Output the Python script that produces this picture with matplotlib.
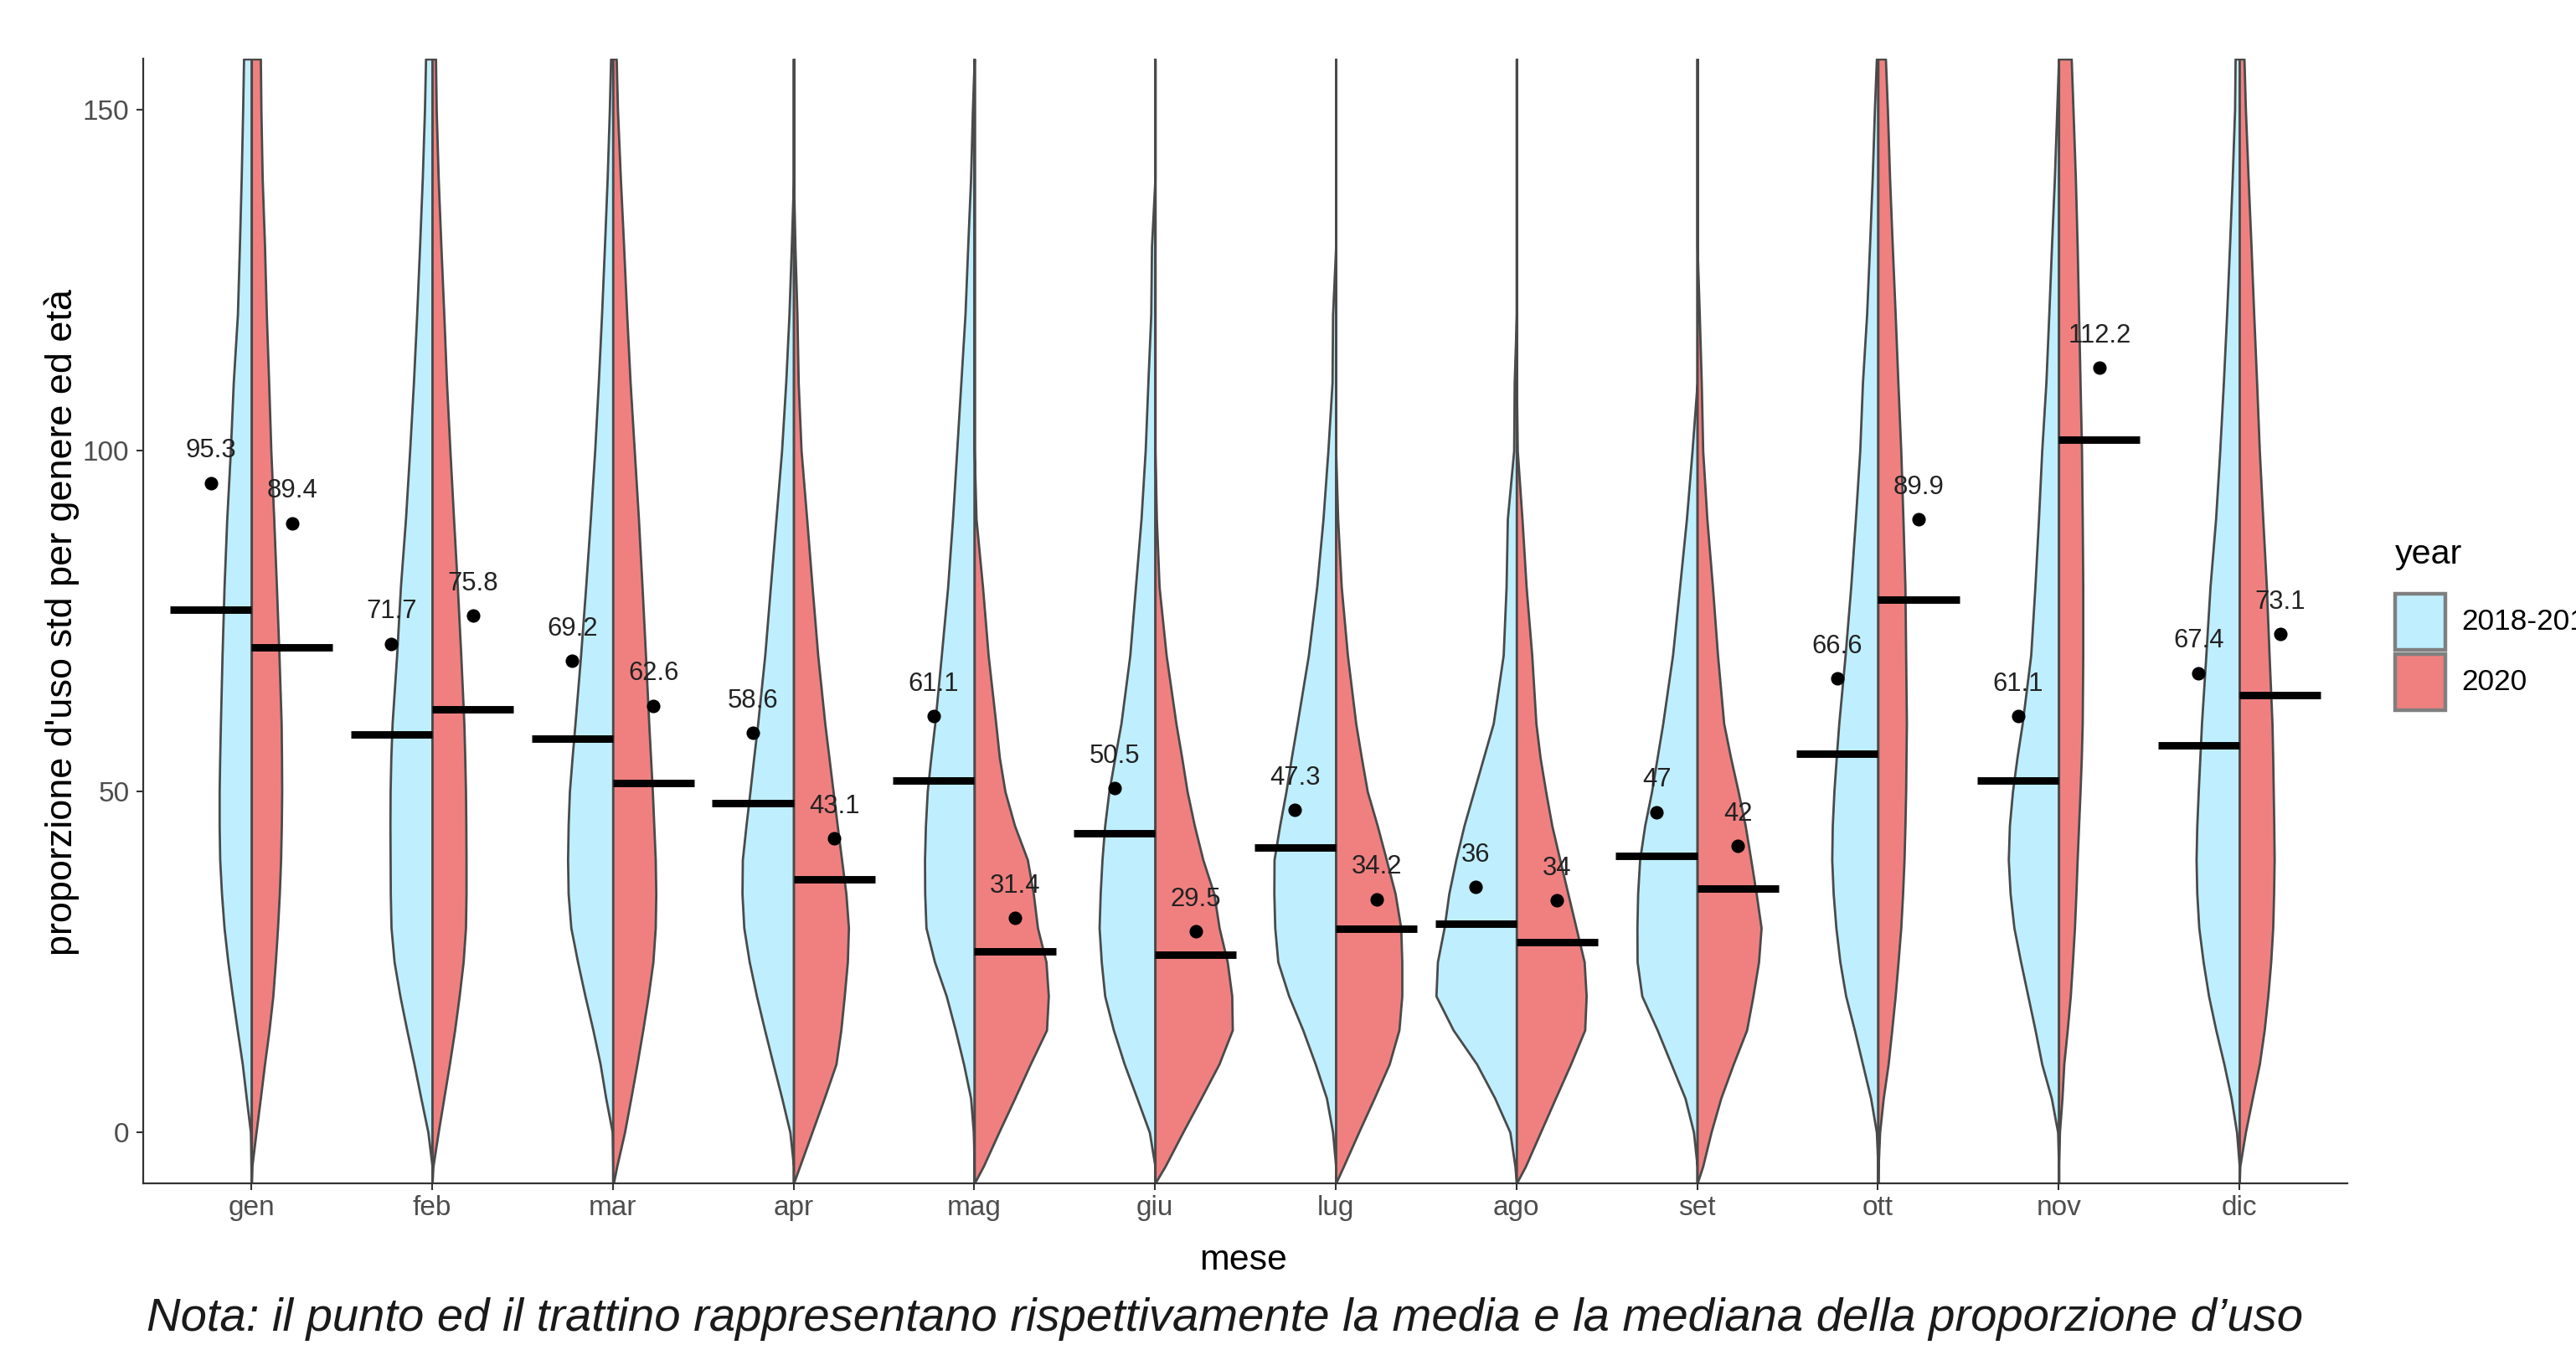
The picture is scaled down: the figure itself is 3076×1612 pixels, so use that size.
import numpy as np
import matplotlib
matplotlib.use("Agg")
import matplotlib.pyplot as plt
import matplotlib.font_manager as fm
from matplotlib.patches import Rectangle

# ---------------- data ----------------
months = ["gen", "feb", "mar", "apr", "mag", "giu", "lug", "ago", "set", "ott", "nov", "dic"]
groups = ["2018-2019", "2020"]

mean_1819 = [95.3, 71.7, 69.2, 58.6, 61.1, 50.5, 47.3, 36, 47, 66.6, 61.1, 67.4]
mean_2020 = [89.4, 75.8, 62.6, 43.1, 31.4, 29.5, 34.2, 34, 42, 89.9, 112.2, 73.1]

median_1819 = [76.7, 58.4, 57.7, 48.3, 51.6, 43.9, 41.8, 30.6, 40.5, 55.6, 51.6, 56.8]
median_2020 = [71.2, 62.1, 51.3, 37.1, 26.6, 26.0, 29.9, 27.9, 35.7, 78.1, 101.6, 64.1]

# y levels at which the violin half-widths (in x-axis units) were read
density_levels = [-7.5, -5, 0, 5, 10, 15, 20, 25, 30, 35, 40, 45, 50, 55, 60,
                  70, 80, 90, 100, 110, 120, 130, 140, 150, 157.5]

violin_1819 = [
    [0, 0.002, 0.005, 0.028, 0.05, 0.078, 0.105, 0.13, 0.151, 0.165, 0.175, 0.178, 0.178, 0.175, 0.171, 0.162, 0.151, 0.136, 0.116, 0.10, 0.077, 0.066, 0.056, 0.048, 0.043],
    [0, 0, 0.023, 0.062, 0.10, 0.14, 0.178, 0.21, 0.227, 0.231, 0.232, 0.233, 0.232, 0.228, 0.221, 0.196, 0.175, 0.147, 0.124, 0.103, 0.085, 0.069, 0.054, 0.042, 0.036],
    [0, 0, 0.003, 0.039, 0.07, 0.11, 0.154, 0.195, 0.232, 0.247, 0.25, 0.247, 0.24, 0.225, 0.209, 0.178, 0.15, 0.124, 0.10, 0.08, 0.062, 0.046, 0.031, 0.019, 0.012],
    [0, 0, 0.02, 0.065, 0.113, 0.16, 0.205, 0.245, 0.275, 0.285, 0.283, 0.263, 0.241, 0.22, 0.198, 0.159, 0.128, 0.097, 0.066, 0.043, 0.025, 0.012, 0, 0, 0],
    [0, 0, 0.005, 0.02, 0.059, 0.105, 0.155, 0.22, 0.267, 0.274, 0.275, 0.27, 0.26, 0.24, 0.218, 0.182, 0.147, 0.12, 0.097, 0.074, 0.051, 0.036, 0.02, 0.01, 0],
    [0, 0, 0.031, 0.10, 0.17, 0.23, 0.278, 0.297, 0.309, 0.303, 0.293, 0.278, 0.255, 0.222, 0.188, 0.139, 0.108, 0.077, 0.054, 0.039, 0.023, 0.019, 0, 0, 0],
    [0, 0, 0.017, 0.051, 0.113, 0.182, 0.26, 0.32, 0.337, 0.342, 0.341, 0.31, 0.275, 0.245, 0.213, 0.151, 0.105, 0.07, 0.043, 0.02, 0.017, 0, 0, 0, 0],
    [0, 0.008, 0.036, 0.12, 0.22, 0.35, 0.445, 0.437, 0.40, 0.374, 0.335, 0.29, 0.236, 0.182, 0.128, 0.073, 0.057, 0.05, 0.015, 0.012, 0, 0, 0, 0, 0],
    [0, 0, 0.02, 0.067, 0.144, 0.221, 0.306, 0.332, 0.333, 0.329, 0.318, 0.29, 0.252, 0.221, 0.19, 0.136, 0.097, 0.059, 0.028, 0, 0, 0, 0, 0, 0],
    [0, 0, 0.008, 0.04, 0.085, 0.13, 0.178, 0.21, 0.232, 0.247, 0.255, 0.252, 0.243, 0.23, 0.216, 0.181, 0.15, 0.124, 0.10, 0.085, 0.062, 0.046, 0.031, 0.019, 0.008],
    [0, 0, 0.005, 0.04, 0.093, 0.13, 0.17, 0.21, 0.247, 0.268, 0.278, 0.272, 0.255, 0.23, 0.201, 0.154, 0.131, 0.111, 0.093, 0.07, 0.054, 0.039, 0.023, 0.01, 0],
    [0, 0, 0.015, 0.045, 0.085, 0.13, 0.17, 0.2, 0.224, 0.235, 0.239, 0.235, 0.227, 0.218, 0.209, 0.185, 0.162, 0.131, 0.108, 0.088, 0.07, 0.054, 0.039, 0.026, 0.023],
]

violin_2020 = [
    [0, 0.003, 0.026, 0.05, 0.073, 0.098, 0.119, 0.133, 0.145, 0.155, 0.162, 0.166, 0.168, 0.167, 0.165, 0.153, 0.139, 0.124, 0.108, 0.096, 0.083, 0.073, 0.06, 0.053, 0.05],
    [0, 0.005, 0.034, 0.065, 0.096, 0.125, 0.15, 0.172, 0.185, 0.188, 0.188, 0.187, 0.185, 0.181, 0.176, 0.159, 0.14, 0.119, 0.099, 0.08, 0.065, 0.049, 0.034, 0.023, 0.019],
    [0.003, 0.022, 0.065, 0.10, 0.134, 0.166, 0.196, 0.222, 0.235, 0.238, 0.235, 0.227, 0.219, 0.209, 0.199, 0.181, 0.162, 0.142, 0.119, 0.096, 0.077, 0.06, 0.042, 0.026, 0.019],
    [0, 0.034, 0.102, 0.17, 0.235, 0.262, 0.281, 0.298, 0.304, 0.29, 0.266, 0.242, 0.219, 0.196, 0.173, 0.134, 0.103, 0.073, 0.042, 0.026, 0.019, 0.008, 0, 0, 0],
    [0, 0.05, 0.136, 0.224, 0.31, 0.40, 0.41, 0.397, 0.35, 0.327, 0.294, 0.223, 0.17, 0.139, 0.119, 0.077, 0.046, 0.01, 0, 0, 0, 0, 0, 0, 0],
    [0, 0.056, 0.154, 0.255, 0.354, 0.428, 0.425, 0.40, 0.355, 0.326, 0.265, 0.218, 0.178, 0.148, 0.116, 0.062, 0.023, 0.008, 0, 0, 0, 0, 0, 0, 0],
    [0, 0.043, 0.127, 0.213, 0.296, 0.35, 0.366, 0.366, 0.36, 0.329, 0.28, 0.23, 0.175, 0.142, 0.111, 0.065, 0.031, 0.011, 0, 0, 0, 0, 0, 0, 0],
    [0, 0.05, 0.133, 0.216, 0.30, 0.378, 0.386, 0.375, 0.33, 0.285, 0.24, 0.196, 0.162, 0.131, 0.108, 0.085, 0.054, 0.031, 0.005, 0, 0, 0, 0, 0, 0],
    [0, 0.031, 0.077, 0.131, 0.20, 0.274, 0.309, 0.34, 0.354, 0.327, 0.297, 0.266, 0.227, 0.185, 0.147, 0.113, 0.085, 0.054, 0.031, 0.023, 0.012, 0, 0, 0, 0],
    [0, 0.002, 0.01, 0.03, 0.057, 0.077, 0.096, 0.112, 0.127, 0.137, 0.145, 0.15, 0.154, 0.156, 0.158, 0.154, 0.15, 0.139, 0.127, 0.111, 0.096, 0.08, 0.065, 0.053, 0.042],
    [0, 0, 0.005, 0.019, 0.029, 0.048, 0.065, 0.077, 0.088, 0.096, 0.103, 0.111, 0.119, 0.126, 0.131, 0.134, 0.134, 0.131, 0.127, 0.119, 0.111, 0.103, 0.093, 0.08, 0.07],
    [0, 0.003, 0.034, 0.072, 0.111, 0.138, 0.158, 0.174, 0.185, 0.19, 0.193, 0.191, 0.188, 0.185, 0.181, 0.165, 0.15, 0.13, 0.111, 0.096, 0.08, 0.065, 0.049, 0.034, 0.026],
]

yticks = [0, 50, 100, 150]
note = "Nota: il punto ed il trattino rappresentano rispettivamente la media e la mediana della proporzione d\u2019uso"

# ---------------- style ----------------
W, H, DPI = 3076, 1612, 200
COL_1819 = "#BFEFFF"
COL_2020 = "#F08080"
EDGE = "#4A4A4A"


def has_font(name):
    try:
        fm.findfont(fm.FontProperties(family=name), fallback_to_default=False)
        return True
    except Exception:
        return False


NARROW_OK = has_font("Liberation Sans Narrow")
NARROW = "Liberation Sans Narrow" if NARROW_OK else "Liberation Sans"
REG = "Liberation Sans"
# the reference text is condensed; without a condensed face, trade a little width for height
BOOST = 1.0 if NARROW_OK else 1.1

fig = plt.figure(figsize=(W / DPI, H / DPI), dpi=DPI)
fig.patch.set_facecolor("white")
renderer = fig.canvas.get_renderer()


def fit_size(text, family, target_px, style="normal", rotated=False):
    t = fig.text(0, 0, text, fontsize=20, family=family, style=style,
                 rotation=90 if rotated else 0)
    bb = t.get_window_extent(renderer)
    t.remove()
    w = bb.height if rotated else bb.width
    return 20 * target_px / w


fs_tick = fit_size("150", NARROW, 54) * (1.0 if NARROW_OK else 1.03)
fs_mean = fit_size("95.3", NARROW, 55) * BOOST
fs_xlab = fit_size("mese", NARROW, 95) * BOOST
fs_year = fit_size("year", NARROW, 73) * BOOST
fs_leg = fit_size("2020", NARROW, 71) * BOOST
fs_note = fit_size(note, NARROW, 2408, style="italic") * (1.0 if NARROW_OK else 1.07)
fs_ylab = fit_size("proporzione d'uso std per genere ed et\u00e0", REG, 797, rotated=True)

# axes placement (pixel-derived)
x_unit = 215.8
x1_px = 300.2
left_px = x1_px - 0.6 * x_unit
right_px = x1_px + 11.6 * x_unit
top_px, bot_px = 70.4, 1413.0
ax = fig.add_axes([left_px / W, 1 - bot_px / H, (right_px - left_px) / W, (bot_px - top_px) / H])

xpos = np.arange(1, len(months) + 1)
levels = np.array(density_levels)

for i, xc in enumerate(xpos):
    wb = np.array(violin_1819[i])
    wr = np.array(violin_2020[i])
    ax.fill_betweenx(levels, xc - wb, xc, facecolor=COL_1819, edgecolor=EDGE,
                     linewidth=1.0, zorder=2)
    ax.fill_betweenx(levels, xc, xc + wr, facecolor=COL_2020, edgecolor=EDGE,
                     linewidth=1.0, zorder=2)

# median bars
for i, xc in enumerate(xpos):
    ax.plot([xc - 0.45, xc], [median_1819[i]] * 2, color="black", lw=3.2,
            solid_capstyle="butt", zorder=4)
    ax.plot([xc, xc + 0.45], [median_2020[i]] * 2, color="black", lw=3.2,
            solid_capstyle="butt", zorder=4)

# mean points + labels
off = 0.225
ax.plot(xpos - off, mean_1819, "o", color="black", ms=4.8, zorder=5)
ax.plot(xpos + off, mean_2020, "o", color="black", ms=4.8, zorder=5)
for i, xc in enumerate(xpos):
    ax.text(xc - off, mean_1819[i] + 4.7, f"{mean_1819[i]:g}", ha="center", va="center",
            fontsize=fs_mean, family=NARROW, color="#222222", zorder=6)
    ax.text(xc + off, mean_2020[i] + 4.7, f"{mean_2020[i]:g}", ha="center", va="center",
            fontsize=fs_mean, family=NARROW, color="#222222", zorder=6)

ax.set_xlim(0.4, 12.6)
ax.set_ylim(-7.5, 157.5)
ax.set_xticks(xpos)
ax.set_xticklabels(months)
ax.set_yticks(yticks)
ax.set_yticklabels([str(v) for v in yticks])
for lab in ax.get_xticklabels() + ax.get_yticklabels():
    lab.set_family(NARROW)
    lab.set_fontsize(fs_tick)
    lab.set_color("#4D4D4D")
ax.tick_params(axis="both", length=2.9, width=0.75, color="#333333")
ax.tick_params(axis="x", pad=2)
ax.tick_params(axis="y", pad=3)
for s in ["top", "right"]:
    ax.spines[s].set_visible(False)
for s in ["left", "bottom"]:
    ax.spines[s].set_color("#333333")
    ax.spines[s].set_linewidth(0.8)
ax.set_facecolor("white")

# axis titles
fig.text(1485 / W, 1 - 1505 / H, "mese", ha="center", va="center",
         fontsize=fs_xlab, family=NARROW, color="black")
fig.text(74 / W, 1 - 743 / H, "proporzione d'uso std per genere ed et\u00e0", ha="center",
         va="center", rotation=90, fontsize=fs_ylab, family=REG, color="black")

# legend (manual, ggplot style)
fig.text(2860 / W, 1 - 662 / H, "year", ha="left", va="center",
         fontsize=fs_year, family=NARROW, color="black")
for (y0, y1), col, lab in zip([(709, 776), (781, 848)], [COL_1819, COL_2020], groups):
    fig.patches.append(Rectangle((2860 / W, 1 - y1 / H), 60 / W, (y1 - y0) / H,
                                 transform=fig.transFigure, facecolor=col,
                                 edgecolor="#7F7F7F", linewidth=1.6))
    fig.text(2939 / W, 1 - (y0 + y1) / 2 / H, lab, ha="left", va="center",
             fontsize=fs_leg, family=NARROW, color="black")

# note
fig.text(175 / W, 1 - 1575 / H, note, ha="left", va="center", style="italic",
         fontsize=fs_note, family=NARROW, color="#1A1A1A")

fig.savefig("out.png", dpi=DPI, facecolor="white")
